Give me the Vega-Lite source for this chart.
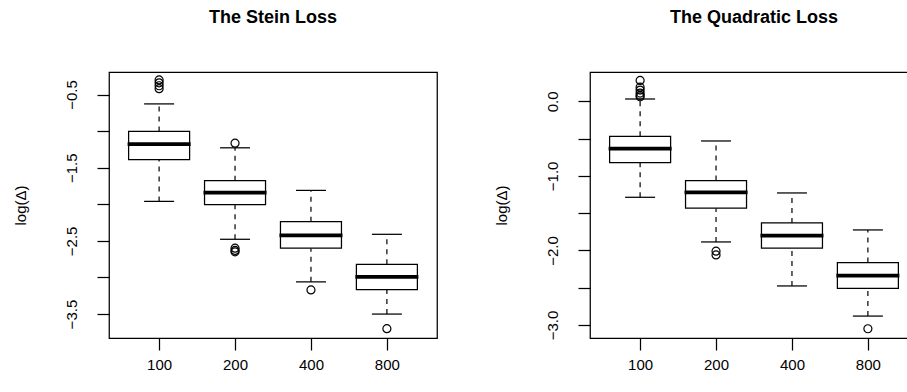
{
  "$schema": "https://vega.github.io/schema/vega-lite/v6.json",
  "background": "white",
  "padding": {"left": 12, "top": 8, "right": 0, "bottom": 0},
  "config": {
    "font": "Liberation Sans",
    "view": {"stroke": "black", "strokeWidth": 1.25},
    "title": {"fontSize": 18, "fontWeight": "bold", "color": "black", "font": "Liberation Sans", "anchor": "middle", "frame": "group", "baseline": "alphabetic", "offset": 45},
    "axis": {"grid": false, "domain": false, "tickColor": "black", "tickWidth": 1.25, "tickSize": 12, "labelColor": "black", "labelFontSize": 15, "labelFont": "Liberation Sans", "titleFont": "Liberation Sans", "titleFontSize": 15, "titleFontWeight": "normal", "titleColor": "black"}
  },
  "datasets": {
    "stein": [
      {"n": "100", "lower": -1.96, "q1": -1.39, "median": -1.178, "q3": -1.005, "upper": -0.628},
      {"n": "200", "lower": -2.478, "q1": -2.006, "median": -1.842, "q3": -1.678, "upper": -1.228},
      {"n": "400", "lower": -3.06, "q1": -2.6, "median": -2.424, "q3": -2.238, "upper": -1.81},
      {"n": "800", "lower": -3.5, "q1": -3.165, "median": -2.99, "q3": -2.82, "upper": -2.41}
    ],
    "steinOut": [
      {"n": "100", "v": -0.3}, {"n": "100", "v": -0.34}, {"n": "100", "v": -0.38}, {"n": "100", "v": -0.42},
      {"n": "200", "v": -1.164}, {"n": "200", "v": -2.6}, {"n": "200", "v": -2.63}, {"n": "200", "v": -2.65},
      {"n": "400", "v": -3.17},
      {"n": "800", "v": -3.7}
    ],
    "quad": [
      {"n": "100", "lower": -1.287, "q1": -0.822, "median": -0.634, "q3": -0.469, "upper": 0.031},
      {"n": "200", "lower": -1.886, "q1": -1.434, "median": -1.22, "q3": -1.063, "upper": -0.532},
      {"n": "400", "lower": -2.476, "q1": -1.97, "median": -1.8, "q3": -1.631, "upper": -1.229},
      {"n": "800", "lower": -2.88, "q1": -2.507, "median": -2.337, "q3": -2.162, "upper": -1.725}
    ],
    "quadOut": [
      {"n": "100", "v": 0.28}, {"n": "100", "v": 0.19}, {"n": "100", "v": 0.15}, {"n": "100", "v": 0.11}, {"n": "100", "v": 0.08}, {"n": "100", "v": 0.06},
      {"n": "200", "v": -2.01}, {"n": "200", "v": -2.06},
      {"n": "800", "v": -3.05}
    ]
  },
  "hconcat": [
    {
      "title": "The Stein Loss",
      "width": 328,
      "height": 266,
      "encoding": {
        "x": {"field": "n", "type": "ordinal", "sort": ["100", "200", "400", "800"], "scale": {"type": "point", "padding": 0.66}, "axis": {"title": null, "labelAngle": 0, "labelPadding": 7, "labelBaseline": "top"}}
      },
      "layer": [
        {
          "data": {"name": "stein"},
          "mark": {"type": "rule", "strokeDash": [5, 5], "strokeWidth": 1.2, "color": "black"},
          "encoding": {
            "y": {"field": "lower", "type": "quantitative", "scale": {"domain": [-3.827, -0.192], "nice": false, "zero": false},
              "axis": {"title": "log(Δ)", "titlePadding": 36, "values": [-3.5, -3, -2.5, -2, -1.5, -1, -0.5], "labelAngle": -90, "labelAlign": "center", "labelBaseline": "bottom", "labelPadding": 18,
                "labelExpr": "abs(round(datum.value*2)) % 2 == 1 ? format(datum.value, '.1f') : ''"}},
            "y2": {"field": "q1"}
          }
        },
        {
          "data": {"name": "stein"},
          "mark": {"type": "rule", "strokeDash": [5, 5], "strokeWidth": 1.2, "color": "black"},
          "encoding": {"y": {"field": "q3", "type": "quantitative"}, "y2": {"field": "upper"}}
        },
        {
          "data": {"name": "stein"},
          "mark": {"type": "tick", "size": 30, "thickness": 1.25, "color": "black", "opacity": 1},
          "encoding": {"y": {"field": "lower", "type": "quantitative"}}
        },
        {
          "data": {"name": "stein"},
          "mark": {"type": "tick", "size": 30, "thickness": 1.25, "color": "black", "opacity": 1},
          "encoding": {"y": {"field": "upper", "type": "quantitative"}}
        },
        {
          "data": {"name": "stein"},
          "mark": {"type": "bar", "size": 61, "fill": "white", "stroke": "black", "strokeWidth": 1.25, "opacity": 1},
          "encoding": {"y": {"field": "q1", "type": "quantitative"}, "y2": {"field": "q3"}}
        },
        {
          "data": {"name": "stein"},
          "mark": {"type": "tick", "size": 63, "thickness": 3.75, "color": "black", "opacity": 1},
          "encoding": {"y": {"field": "median", "type": "quantitative"}}
        },
        {
          "data": {"name": "steinOut"},
          "mark": {"type": "point", "shape": "circle", "size": 64, "filled": false, "stroke": "black", "strokeWidth": 1.2, "opacity": 1},
          "encoding": {"y": {"field": "v", "type": "quantitative"}}
        }
      ]
    },
    {
      "title": "The Quadratic Loss",
      "width": 328,
      "height": 266,
      "encoding": {
        "x": {"field": "n", "type": "ordinal", "sort": ["100", "200", "400", "800"], "scale": {"type": "point", "padding": 0.66}, "axis": {"title": null, "labelAngle": 0, "labelPadding": 7, "labelBaseline": "top"}}
      },
      "layer": [
        {
          "data": {"name": "quad"},
          "mark": {"type": "rule", "strokeDash": [5, 5], "strokeWidth": 1.2, "color": "black"},
          "encoding": {
            "y": {"field": "lower", "type": "quantitative", "scale": {"domain": [-3.174, 0.393], "nice": false, "zero": false},
              "axis": {"title": "log(Δ)", "titlePadding": 36, "values": [-3, -2.5, -2, -1.5, -1, -0.5, 0], "labelAngle": -90, "labelAlign": "center", "labelBaseline": "bottom", "labelPadding": 18,
                "labelExpr": "abs(round(datum.value*2)) % 2 == 0 ? format(datum.value, '.1f') : ''"}},
            "y2": {"field": "q1"}
          }
        },
        {
          "data": {"name": "quad"},
          "mark": {"type": "rule", "strokeDash": [5, 5], "strokeWidth": 1.2, "color": "black"},
          "encoding": {"y": {"field": "q3", "type": "quantitative"}, "y2": {"field": "upper"}}
        },
        {
          "data": {"name": "quad"},
          "mark": {"type": "tick", "size": 30, "thickness": 1.25, "color": "black", "opacity": 1},
          "encoding": {"y": {"field": "lower", "type": "quantitative"}}
        },
        {
          "data": {"name": "quad"},
          "mark": {"type": "tick", "size": 30, "thickness": 1.25, "color": "black", "opacity": 1},
          "encoding": {"y": {"field": "upper", "type": "quantitative"}}
        },
        {
          "data": {"name": "quad"},
          "mark": {"type": "bar", "size": 61, "fill": "white", "stroke": "black", "strokeWidth": 1.25, "opacity": 1},
          "encoding": {"y": {"field": "q1", "type": "quantitative"}, "y2": {"field": "q3"}}
        },
        {
          "data": {"name": "quad"},
          "mark": {"type": "tick", "size": 63, "thickness": 3.75, "color": "black", "opacity": 1},
          "encoding": {"y": {"field": "median", "type": "quantitative"}}
        },
        {
          "data": {"name": "quadOut"},
          "mark": {"type": "point", "shape": "circle", "size": 64, "filled": false, "stroke": "black", "strokeWidth": 1.2, "opacity": 1},
          "encoding": {"y": {"field": "v", "type": "quantitative"}}
        }
      ]
    }
  ],
  "spacing": 153,
  "bounds": "flush",
  "resolve": {"scale": {"y": "independent", "x": "independent"}}
}
